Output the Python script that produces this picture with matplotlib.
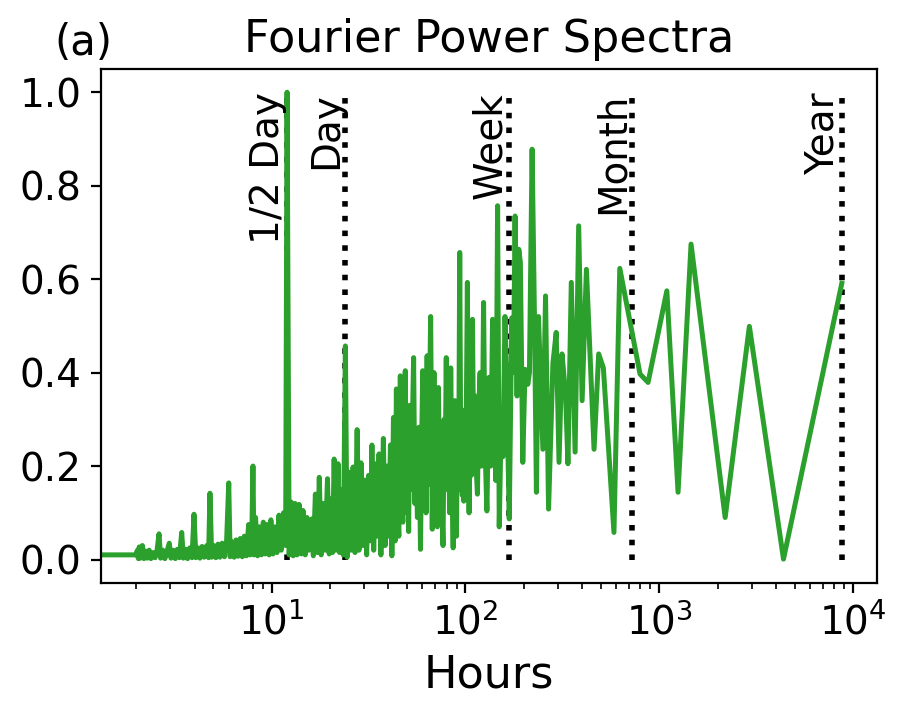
import matplotlib
matplotlib.use("Agg")
import matplotlib.pyplot as plt

# period (hours) and normalised Fourier power
hours = [
    1.0, 2.0, 2.02, 2.05, 2.07, 2.1, 2.15, 2.19, 2.23, 2.28, 2.33, 2.38, 2.44, 2.5, 2.56,
    2.62, 2.67, 2.74, 2.81, 2.88, 2.96, 3.02, 3.1, 3.18, 3.26, 3.34, 3.43, 3.5,
    3.6, 3.68, 3.78, 3.88, 3.97, 4.06, 4.16, 4.26, 4.37, 4.48, 4.62, 4.72, 4.8,
    4.9, 5.02, 5.15, 5.28, 5.4, 5.55, 5.7, 5.85, 6.0, 6.1, 6.25, 6.4, 6.55, 6.7,
    6.88, 7.05, 7.22, 7.4, 7.6, 7.75, 7.9, 8.0, 8.1, 8.25, 8.45, 8.65, 8.85,
    9.05, 9.25, 9.45, 9.7, 9.9, 10.15, 10.4, 10.65, 10.9, 11.2, 11.5, 11.8,
    12.0, 12.3, 12.6, 12.9, 13.2, 13.5, 13.85, 14.2, 14.5, 14.9, 15.2, 15.6,
    16.1, 16.4, 16.8, 17.2, 17.6, 18.0, 18.5, 18.9, 19.4, 19.8, 20.3, 20.6,
    21.0, 21.4, 22.0, 22.4, 22.9, 23.4, 24.0, 24.5, 25.0, 25.6, 26.3, 26.9,
    27.6, 28.2, 28.9, 29.5, 30.2, 30.9, 31.6, 32.3, 32.9, 33.6, 34.3, 35.0,
    35.8, 36.6, 37.7, 38.5, 39.4, 40.2, 41.0, 41.7, 42.5, 43.4, 44.0, 44.6,
    45.3, 46.1, 46.8, 47.5, 48.2, 48.9, 49.6, 50.2, 50.9, 51.6, 52.3, 53.1,
    54.0, 54.8, 55.6, 56.5, 57.5, 58.6, 59.4, 60.2, 61.0, 61.8, 62.6, 63.4,
    64.2, 65.0, 66.1, 67.4, 68.1, 68.8, 69.8, 70.7, 71.6, 72.5, 73.5, 74.5,
    75.5, 76.6, 77.6, 78.6, 79.6, 80.6, 81.7, 82.8, 83.9, 85.1, 86.4, 87.3,
    88.3, 89.8, 91.0, 92.2, 93.4, 94.6, 96.4, 97.2, 98.0, 99.2, 100.5, 102.3,
    103.3, 104.4, 105.8, 107.2, 108.7, 110.2, 111.7, 113.5, 115.3, 117.0,
    119.0, 120.8, 122.5, 124.0, 126.0, 129.0, 132.5, 135.0, 138.0, 141.0,
    143.5, 146.5, 149.4, 153.0, 156.0, 160.0, 163.7, 168.3, 173.3, 177.0,
    180.3, 184.6, 188.4, 192.0, 197.6, 203.0, 209.8, 213.9, 220.8, 227.0,
    232.4, 238.2, 251.0, 259.0, 268.5, 282.7, 294.0, 304.0, 315.0, 328.6,
    338.0, 351.8, 368.0, 384.0, 400.0, 421.0, 461.0, 487.0, 515.0, 584.0,
    626.0, 796.0, 876.0, 1095.0, 1251.0, 1460.0, 2190.0, 2920.0, 4380.0, 8760.0,
]
power = [
    0.01, 0.01, 0.019, 0.002, 0.027, 0.003, 0.03, 0.002, 0.018, 0.003, 0.02, 0.002,
    0.015, 0.004, 0.02, 0.055, 0.003, 0.02, 0.002, 0.018, 0.035, 0.003, 0.02,
    0.002, 0.022, 0.004, 0.058, 0.003, 0.022, 0.002, 0.025, 0.004, 0.097,
    0.004, 0.025, 0.003, 0.028, 0.005, 0.03, 0.004, 0.142, 0.005, 0.03, 0.004,
    0.033, 0.005, 0.035, 0.006, 0.04, 0.164, 0.006, 0.038, 0.005, 0.042,
    0.007, 0.045, 0.006, 0.05, 0.008, 0.075, 0.01, 0.06, 0.2, 0.01, 0.09,
    0.008, 0.07, 0.01, 0.08, 0.012, 0.075, 0.01, 0.085, 0.012, 0.07, 0.015,
    0.095, 0.02, 0.1, 0.03,
    1.0, 0.01, 0.123, 0.008, 0.12, 0.01, 0.118, 0.012, 0.105, 0.01, 0.09,
    0.02, 0.087, 0.008, 0.14, 0.015, 0.176, 0.01, 0.12, 0.02, 0.173, 0.012,
    0.13, 0.015, 0.215, 0.02, 0.205, 0.015, 0.15, 0.01, 0.457, 0.005, 0.187,
    0.02, 0.198, 0.015, 0.278, 0.02, 0.207, 0.03, 0.17, 0.01, 0.18, 0.04,
    0.245, 0.02, 0.205, 0.05, 0.226, 0.01, 0.259, 0.03, 0.2, 0.05, 0.245,
    0.008, 0.304, 0.04, 0.365, 0.12, 0.05, 0.393, 0.15, 0.08, 0.3, 0.404,
    0.1, 0.25, 0.06, 0.33, 0.15, 0.27, 0.432, 0.12, 0.22, 0.09, 0.283, 0.022,
    0.25, 0.404, 0.13, 0.3, 0.1, 0.436, 0.16, 0.28, 0.52, 0.065, 0.3, 0.4,
    0.15, 0.25, 0.07, 0.368, 0.18, 0.28, 0.12, 0.03, 0.3, 0.2, 0.432, 0.15,
    0.3, 0.1, 0.41, 0.2, 0.025, 0.28, 0.34, 0.05, 0.3, 0.15, 0.657, 0.2,
    0.137, 0.3, 0.125, 0.32, 0.2, 0.593, 0.25, 0.1, 0.3, 0.18, 0.514, 0.22,
    0.35, 0.2, 0.14, 0.32, 0.4, 0.2, 0.3, 0.55, 0.25, 0.104, 0.39, 0.2,
    0.514, 0.3, 0.169, 0.757, 0.07, 0.3, 0.22, 0.52, 0.34, 0.087, 0.517, 0.4,
    0.735, 0.35, 0.664, 0.636, 0.208, 0.407, 0.375, 0.4, 0.878, 0.52, 0.144,
    0.52, 0.236, 0.564, 0.108, 0.42, 0.486, 0.208, 0.44, 0.355, 0.205, 0.593,
    0.23, 0.714, 0.34, 0.621, 0.236, 0.44, 0.41, 0.058, 0.623, 0.397, 0.379,
    0.575, 0.144, 0.675, 0.09, 0.499, 0.001, 0.591,
]

cycle_hours = [12, 24, 168, 720, 8760]
cycle_labels = ["1/2 Day", "Day", "Week", "Month", "Year"]

fig = plt.figure(figsize=(906 / 200, 717 / 200), dpi=200)
ax = fig.add_axes([0.1115, 0.187, 0.8565, 0.717])

# reference periods first so the spectrum sits on top
ax.vlines(cycle_hours, 0, 1, colors="black", linestyles="dotted", linewidth=2)
for h, lab in zip(cycle_hours, cycle_labels):
    ax.text(h, 1.0, lab, rotation=90, ha="right", va="top", fontsize=14)

ax.plot(hours, power, color="#2ca02c", linewidth=1.8)
ax.set_xscale("log")
ax.set_xlim(1.315, 13310)
ax.set_ylim(-0.05, 1.05)
ax.set_yticks([0.0, 0.2, 0.4, 0.6, 0.8, 1.0])

ax.tick_params(axis="both", which="major", labelsize=14)
ax.set_xlabel("Hours", fontsize=16)
ax.set_title("Fourier Power Spectra", fontsize=16)
ax.text(-0.06, 1.027, "(a)", transform=ax.transAxes, fontsize=15, va="baseline")

fig.savefig("out.png", dpi=200)
